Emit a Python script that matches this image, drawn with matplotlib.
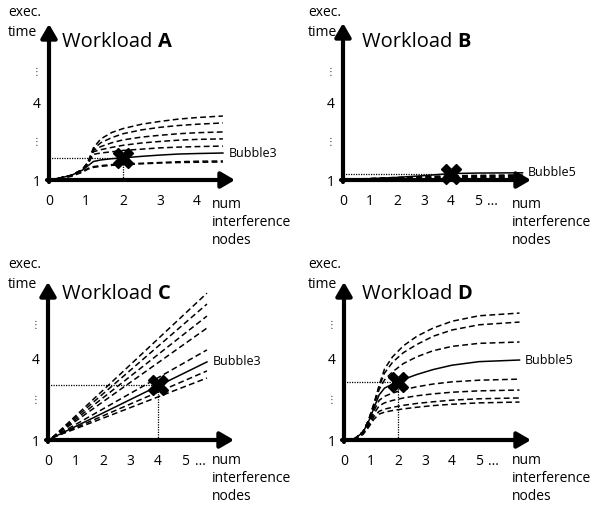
import matplotlib
matplotlib.use('Agg')
import matplotlib.pyplot as plt

plt.rcParams['font.family'] = ['Open Sans', 'DejaVu Sans']

W, H = 597, 508

# ---- data ----
# workload A (x = interference nodes, y = exec. time)
a_x = [0, 0.3, 0.6, 0.9, 1.05, 1.2, 1.4, 1.7, 2.0, 2.5, 3.0, 3.5, 4.0, 4.7]
a_dashed = [
    [1.0, 1.08, 1.18, 1.4, 1.7, 2.25, 2.6, 2.85, 3.0, 3.17, 3.28, 3.37, 3.43, 3.49],
    [1.0, 1.08, 1.18, 1.4, 1.68, 2.2, 2.45, 2.65, 2.8, 2.95, 3.05, 3.12, 3.17, 3.22],
    [1.0, 1.08, 1.18, 1.4, 1.66, 2.15, 2.3, 2.45, 2.56, 2.67, 2.74, 2.8, 2.84, 2.87],
    [1.0, 1.08, 1.18, 1.4, 1.64, 2.1, 2.18, 2.27, 2.35, 2.44, 2.5, 2.55, 2.58, 2.60],
    [1.0, 1.08, 1.18, 1.4, 1.62, 2.0, 2.05, 2.1, 2.15, 2.2, 2.25, 2.28, 2.30, 2.32],
    [1.0, 1.07, 1.16, 1.33, 1.45, 1.52, 1.56, 1.6, 1.62, 1.65, 1.68, 1.71, 1.73, 1.74],
    [1.0, 1.06, 1.14, 1.3, 1.42, 1.49, 1.53, 1.57, 1.6, 1.63, 1.66, 1.68, 1.69, 1.70],
]
a_solid = [1.0, 1.08, 1.18, 1.38, 1.55, 1.72, 1.78, 1.83, 1.86, 1.92, 1.97, 2.01, 2.03, 2.05]
a_mark = (2, 1.86)

# workload B
b_x = [0, 1, 2, 3, 4, 5, 6.65]
b_dashed = [
    [1.0, 1.01, 1.02, 1.03, 1.04, 1.04, 1.05],
    [1.0, 1.02, 1.04, 1.05, 1.06, 1.07, 1.08],
    [1.0, 1.03, 1.05, 1.07, 1.09, 1.10, 1.11],
    [1.0, 1.04, 1.07, 1.09, 1.11, 1.13, 1.14],
    [1.0, 1.05, 1.08, 1.11, 1.14, 1.16, 1.17],
    [1.0, 1.06, 1.10, 1.13, 1.16, 1.18, 1.20],
]
b_solid = [1.0, 1.05, 1.1, 1.17, 1.25, 1.27, 1.28]
b_mark = (4, 1.25)

# workload C
c_x = [0.15, 5.78]
c_dashed = [
    [1.08, 6.38],
    [1.08, 5.98],
    [1.08, 5.54],
    [1.08, 5.10],
    [1.08, 4.30],
    [1.08, 3.53],
    [1.08, 3.27],
]
c_solid_x = [0, 5.78]
c_solid = [1.0, 3.86]
c_mark = (4, 3.0)

# workload D
d_x = [0, 0.4, 0.7, 0.9, 1.1, 1.3, 1.5, 1.8, 2.2, 2.7, 3.3, 4.0, 5.0, 6.5]
d_dashed = [
    [1.0, 1.05, 1.3, 1.7, 2.3, 3.0, 3.6, 4.05, 4.45, 4.8, 5.1, 5.35, 5.55, 5.65],
    [1.0, 1.05, 1.3, 1.7, 2.3, 2.95, 3.45, 3.85, 4.2, 4.5, 4.8, 5.03, 5.22, 5.32],
    [1.0, 1.05, 1.3, 1.7, 2.25, 2.85, 3.2, 3.5, 3.8, 4.05, 4.27, 4.43, 4.54, 4.59],
    [1.0, 1.05, 1.25, 1.6, 2.05, 2.45, 2.6, 2.72, 2.84, 2.95, 3.05, 3.13, 3.19, 3.23],
    [1.0, 1.05, 1.24, 1.55, 1.95, 2.25, 2.36, 2.45, 2.54, 2.62, 2.69, 2.75, 2.80, 2.83],
    [1.0, 1.04, 1.22, 1.5, 1.85, 2.05, 2.13, 2.2, 2.27, 2.34, 2.4, 2.46, 2.51, 2.54],
    [1.0, 1.04, 1.2, 1.45, 1.75, 1.95, 2.02, 2.08, 2.14, 2.2, 2.26, 2.31, 2.36, 2.39],
]
d_solid = [1.0, 1.05, 1.28, 1.65, 2.15, 2.65, 2.9, 3.05, 3.22, 3.4, 3.58, 3.74, 3.87, 3.93]
d_mark = (2, 3.13)

a_ticks = ['0', '1', '2', '3', '4']
bcd_ticks = ['0', '1', '2', '3', '4', '5']

fig = plt.figure(figsize=(W / 100, H / 100), dpi=100)


def panel(ox, oy, ux, uy, xend, ytop):
    # ox, oy: pixel of the origin; ux, uy: pixels per unit
    ax = fig.add_axes([ox / W, 1 - oy / H, (xend - ox) / W, (oy - ytop) / H])
    ax.set_xlim(0, (xend - ox) / ux)
    ax.set_ylim(1, 1 + (oy - ytop) / uy)
    for s in ax.spines.values():
        s.set_visible(False)
    ax.patch.set_alpha(0)
    aprops = dict(arrowstyle='-|>,head_length=0.55,head_width=0.32', lw=3,
                  color='black', mutation_scale=15, shrinkA=0, shrinkB=0)
    ax.annotate('', xy=(1, 0), xytext=(-2.0 / (xend - ox), 0), xycoords='axes fraction',
                arrowprops=aprops, annotation_clip=False)
    ax.annotate('', xy=(0, 1), xytext=(0, -2.0 / (oy - ytop)), xycoords='axes fraction',
                arrowprops=aprops, annotation_clip=False)
    ax.tick_params(length=0, labelsize=10, pad=10)
    ax.tick_params(axis='y', pad=6)
    ax.set_yticks([1, 4], ['1', '4'])
    for yy in [2.48, 5.2]:
        ax.annotate('⋮', xy=(0, yy), xytext=(-9, 0), textcoords='offset points',
                    ha='center', va='center', fontsize=7, family='DejaVu Sans',
                    color='#333333', annotation_clip=False)
    return ax


def curves(ax, xs, dashed, sx, solid, mark, name):
    for ys in dashed:
        ax.plot(xs, ys, color='black', lw=1.1, ls=(0, (3.8, 2.2)), clip_on=False)
    ax.plot(sx, solid, color='black', lw=1.1, clip_on=False)
    mx, my = mark
    ax.plot([0, mx], [my, my], color='black', lw=0.9, ls=(0, (1, 1)), clip_on=False)
    ax.plot([mx, mx], [1, my], color='black', lw=0.9, ls=(0, (1, 1)), clip_on=False)
    ax.plot(mx, my, marker='X', ms=14, color='black', mec='black', clip_on=False, zorder=5)
    ax.annotate(name, xy=(sx[-1], solid[-1]), xytext=(4, 0), textcoords='offset points',
                va='center', ha='left', fontsize=9, annotation_clip=False)


axA = panel(49, 180, 37, 25.7, 235, 24)
axA.set_xticks(range(5), a_ticks)
curves(axA, a_x, a_dashed, a_x, a_solid, a_mark, 'Bubble3')

axB = panel(343, 180, 27, 25.7, 531, 23)
axB.set_xticks(range(6), bcd_ticks)
curves(axB, b_x, b_dashed, b_x, b_solid, b_mark, 'Bubble5')

axC = panel(48, 440, 27.5, 27.3, 234, 282)
axC.set_xticks(range(6), bcd_ticks)
curves(axC, c_x, c_dashed, c_solid_x, c_solid, c_mark, 'Bubble3')

axD = panel(344, 440, 27, 27.3, 531, 282)
axD.set_xticks(range(6), bcd_ticks)
curves(axD, d_x, d_dashed, d_x, d_solid, d_mark, 'Bubble5')

for ax in [axB, axC, axD]:
    ax.annotate('...', xy=(5, 1), xytext=(6.5, -10), textcoords='offset points',
                ha='left', va='top', fontsize=10, annotation_clip=False)

# titles and axis names
for (x0, y0, letter) in [(0, 0, 'A'), (300, 0, 'B'), (0, 252, 'C'), (300, 252, 'D')]:
    fig.text((x0 + 8) / W, 1 - (y0 + 13) / H, 'exec.', fontsize=10, va='center')
    fig.text((x0 + 8) / W, 1 - (y0 + 32) / H, 'time', fontsize=10, va='center')
    t = fig.text((x0 + 62) / W, 1 - (y0 + 47) / H, 'Workload ', fontsize=14.5,
                 va='baseline')
    fig.canvas.draw()
    bb = t.get_window_extent()
    fig.text(bb.x1 / W, 1 - (y0 + 47) / H, letter, fontsize=14.5, fontweight='bold',
             va='baseline')

for (x0, y0) in [(212, 204), (512, 204), (212, 460), (512, 460)]:
    for i, s in enumerate(['num', 'interference', 'nodes']):
        fig.text(x0 / W, 1 - (y0 + 18 * i) / H, s, fontsize=10, va='center')

fig.savefig('out.png', dpi=100)
